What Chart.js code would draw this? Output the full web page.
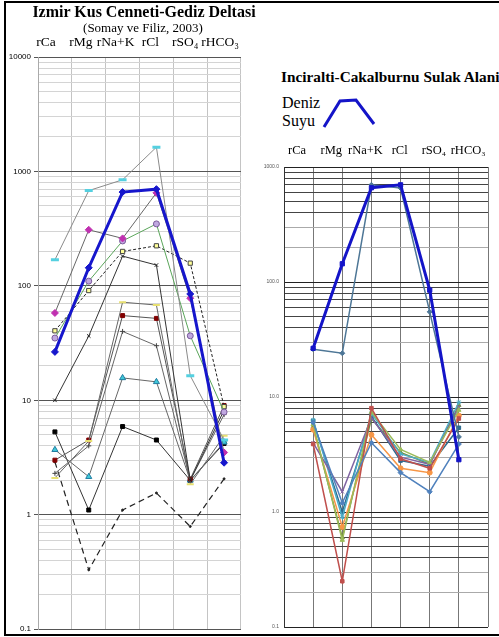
<!DOCTYPE html>
<html>
<head>
<meta charset="utf-8">
<script src="https://cdn.jsdelivr.net/npm/chart.js@4.4.1/dist/chart.umd.min.js"></script>
<style>
body { margin:0; background:#fff; width:499px; height:637px; overflow:hidden; position:relative; font-family:'Liberation Serif', serif; color:#000; }
#frame { position:absolute; left:4px; top:1px; width:600px; height:631px; border:2px solid #000; border-right:none; pointer-events:none; }
#leftChart { position:absolute; left:0; top:0; }
#rightChart { position:absolute; left:262px; top:140px; }
.title1 { position:absolute; left:0; width:288px; top:3px; text-align:center; font-weight:bold; font-size:16px; }
.title2 { position:absolute; left:0; width:286px; top:20px; text-align:center; font-size:13px; }
.title3 { position:absolute; left:281px; top:69px; font-weight:bold; font-size:15px; white-space:nowrap; transform:scaleX(1.02); transform-origin:left center; }
.deniz { position:absolute; left:282px; top:94px; font-size:16px; line-height:18px; }
#legendLine { position:absolute; left:318px; top:92px; }
</style>
</head>
<body>
<canvas id="leftChart" width="250" height="637"></canvas>
<canvas id="rightChart" width="237" height="497"></canvas>
<div class="title1">Izmir Kus Cenneti-Gediz Deltasi</div>
<div class="title2">(Somay ve Filiz, 2003)</div>
<div class="title3">Inciralti-Cakalburnu Sulak Alani</div>
<div class="deniz">Deniz<br>Suyu</div>
<svg id="legendLine" width="64" height="40"><polyline points="6,35 22,9 38,8 56,32" fill="none" stroke="#1414c8" stroke-width="3"/></svg>
<div id="frame"></div>
<script>
var ions = ['rCa', 'rMg', 'rNa+K', 'rCl', 'rSO\u2084', 'rHCO\u2083'];
var leftTickLabels = ['0.1', '1', '10', '100', '1000', '10000'];
var rightTickLabels = ['0.1', '1.0', '10.0', '100.0', '1000.0'];

// deniz suyu (sea water), same in both panels
var seawater = [26.5, 144, 660, 700, 85, 2.85];

// Gediz deltasi samples
var gedizCyan = [169, 680, 845, 1630, 16.4, 4.5];
var gedizMagenta = [58, 309, 260, 650, 78, 3.5];
var gedizPurple = [35, 110, 247, 348, 36.6, 7.9];
var gedizYellow = [40.5, 91, 200, 224, 158, 8.8];
var gedizCross = [10, 36.5, 182, 152, 2.0, 8.2];
var gedizOlive = [2.1, 4.4, 72, 68, 1.85, 4.9];
var gedizRed = [3.0, 4.5, 55, 52, 2.05, 9.0];
var gedizPlus = [2.3, 4.0, 40, 30, 2.0, 7.5];
var gedizTeal = [3.7, 2.15, 15.7, 14.5, 2.0, 4.3];
var gedizBlack = [5.3, 1.1, 5.9, 4.5, 2.0, 4.2];
var gedizDashed = [2.9, 0.33, 1.1, 1.55, 0.79, 2.06];

// Inciralti samples
var incSteel = [26, 24, 700, 656, 55, 4.5];
var incBlue = [6.0, 1.2, 4.0, 2.2, 1.5, 3.9];
var incRed = [3.9, 0.25, 8.0, 2.9, 2.4, 6.5];
var incGreen = [5.8, 0.57, 7.4, 3.5, 2.7, 7.7];
var incPurple = [4.0, 1.5, 6.6, 3.0, 2.6, 8.2];
var incAqua = [6.3, 0.9, 7.2, 3.2, 2.7, 9.0];
var incOrange = [5.2, 0.74, 4.7, 2.4, 2.2, 6.9];
var incNavy = [6.2, 1.0, 6.8, 2.8, 2.5, 5.4];
var incOlive = [5.5, 0.6, 6.5, 3.3, 2.6, 8.5];

function isPow(v){
	var l = Math.log10(v);
	return Math.abs(l - Math.round(l)) < 1e-9;
}

function logTicks(minExp, maxExp){
	var t = [];
	for (var e = minExp; e < maxExp; e++) {
		for (var m = 1; m < 10; m++) t.push({value: m * Math.pow(10, e)});
	}
	t.push({value: Math.pow(10, maxExp)});
	return t;
}

function ionTicks(s){
	s.ticks = [1, 2, 3, 4, 5, 6].map(function(v){ return {value: v}; });
}

function line(label, data, color, opts){
	var d = {
		label: label,
		data: data,
		borderColor: color,
		borderWidth: 1,
		tension: 0,
		fill: false,
		pointRadius: 2.5,
		pointStyle: 'rect',
		pointBackgroundColor: color,
		pointBorderColor: color,
		pointBorderWidth: 1
	};
	for (var k in opts) d[k] = opts[k];
	return d;
}

function xy(arr){
	return arr.map(function(v, i){ return {x: i + 1, y: v}; });
}

var serif = "'Liberation Serif', serif";
var sans = "'Liberation Sans', Arial, sans-serif";

new Chart(document.getElementById('leftChart'), {
	type: 'line',
	data: {
		labels: ions,
		datasets: [
			line('Deniz Suyu', seawater, '#1616cc', {borderWidth: 3, pointStyle: 'rectRot', pointRadius: 3.5}),
			line('S1', gedizCyan, '#8a8a8a', {pointStyle: 'line', pointRadius: 4, pointBorderWidth: 3, pointBorderColor: '#55d0e0'}),
			line('S2', gedizMagenta, '#666', {pointStyle: 'rectRot', pointRadius: 3.5, pointBackgroundColor: '#c030b0', pointBorderColor: '#c030b0'}),
			line('S3', gedizPurple, '#5aa55a', {pointStyle: 'circle', pointRadius: 3, pointBackgroundColor: '#c0a8e0', pointBorderColor: '#7a5a9a'}),
			line('S4', gedizYellow, '#222', {borderDash: [3, 2], pointStyle: 'rect', pointRadius: 3, pointBackgroundColor: '#ffff99', pointBorderColor: '#444'}),
			line('S5', gedizCross, '#333', {pointStyle: 'crossRot', pointRadius: 2.5, pointBorderColor: '#222'}),
			line('S6', gedizOlive, '#666', {pointStyle: 'line', pointRadius: 3.5, pointBorderWidth: 2, pointBorderColor: '#e8e070'}),
			line('S7', gedizRed, '#555', {pointStyle: 'rect', pointRadius: 2.8, pointBackgroundColor: '#800000', pointBorderColor: '#800000'}),
			line('S8', gedizPlus, '#666', {pointStyle: 'cross', pointRadius: 2.5, pointBorderColor: '#444'}),
			line('S9', gedizTeal, '#666', {pointStyle: 'triangle', pointRadius: 3.5, pointBackgroundColor: '#40c8d8', pointBorderColor: '#207ca0'}),
			line('S10', gedizBlack, '#333', {pointStyle: 'rect', pointRadius: 2.8, pointBackgroundColor: '#000', pointBorderColor: '#000'}),
			line('S11', gedizDashed, '#222', {borderWidth: 1.2, borderDash: [6, 4], pointRadius: 1, pointStyle: 'circle'})
		]
	},
	options: {
		responsive: false,
		animation: false,
		layout: {padding: {top: 0, right: 9, bottom: 7, left: 0}},
		plugins: {legend: {display: false}, tooltip: {enabled: false}},
		scales: {
			x: {
				type: 'category',
				position: 'top',
				offset: true,
				grid: {offset: true, color: '#c4c4c4', drawTicks: false},
				border: {display: false},
				ticks: {display: false},
				afterFit: function(s){ s.height = 0; }
			},
			xl: {
				type: 'linear',
				position: 'top',
				min: 0.77,
				max: 6.6,
				afterBuildTicks: ionTicks,
				grid: {display: false, drawTicks: false},
				border: {display: false},
				ticks: {
					color: '#000', padding: 6, maxRotation: 0, autoSkip: false,
					font: {family: serif, size: 13.5},
					callback: function(v){ return ions[Math.round(v) - 1]; }
				},
				afterFit: function(s){ s.height = 57; }
			},
			y: {
				type: 'logarithmic',
				min: 0.1,
				max: 10000,
				afterBuildTicks: function(s){ s.ticks = logTicks(-1, 4); },
				afterFit: function(s){ s.width = 38; },
				grid: {
					color: function(c){ return c.tick && isPow(c.tick.value) ? '#555' : '#d4d4d4'; },
					tickColor: function(c){ return c.tick && isPow(c.tick.value) ? '#555' : 'rgba(0,0,0,0)'; },
					tickLength: 4
				},
				border: {color: '#aaa'},
				ticks: {
					autoSkip: false,
					color: '#000',
					padding: 3,
					font: {family: sans, size: 8},
					callback: function(v){ return isPow(v) ? leftTickLabels[Math.round(Math.log10(v)) + 1] : ''; }
				}
			}
		}
	}
});

var rightDatasets = [
	line('Deniz Suyu', xy(seawater), '#1414c8', {borderWidth: 3, pointStyle: 'rect', pointRadius: 3}),
	line('I1', xy(incSteel), '#4d7696', {borderWidth: 1.5, pointStyle: 'rectRot', pointRadius: 2.5}),
	line('I2', xy(incBlue), '#4f81bd', {borderWidth: 1.5, pointStyle: 'rectRot'}),
	line('I3', xy(incRed), '#c0504d', {borderWidth: 1.5, pointStyle: 'rect'}),
	line('I4', xy(incGreen), '#9bbb59', {borderWidth: 1.5, pointStyle: 'triangle'}),
	line('I5', xy(incPurple), '#8064a2', {borderWidth: 1.5, pointStyle: 'crossRot'}),
	line('I6', xy(incAqua), '#4bacc6', {borderWidth: 1.5, pointStyle: 'star'}),
	line('I7', xy(incOrange), '#f79646', {borderWidth: 1.5, pointStyle: 'circle'}),
	line('I8', xy(incNavy), '#2c6a8e', {borderWidth: 1.5, pointStyle: 'rect'}),
	line('I9', xy(incOlive), '#77933c', {borderWidth: 1.5, pointStyle: 'triangle'})
];

new Chart(document.getElementById('rightChart'), {
	type: 'line',
	data: {datasets: rightDatasets},
	options: {
		responsive: false,
		animation: false,
		layout: {padding: {top: 0, right: 11, bottom: 10, left: 0}},
		plugins: {legend: {display: false}, tooltip: {enabled: false}},
		scales: {
			x: {
				type: 'linear',
				position: 'bottom',
				min: 0,
				max: 7,
				afterBuildTicks: function(s){ s.ticks = [0, 1, 2, 3, 4, 5, 6, 7].map(function(v){ return {value: v}; }); },
				grid: {color: '#777', drawTicks: false},
				border: {display: false},
				ticks: {display: false},
				afterFit: function(s){ s.height = 0; }
			},
			xl: {
				type: 'linear',
				position: 'top',
				min: 0.62,
				max: 6.58,
				afterBuildTicks: ionTicks,
				grid: {display: false, drawTicks: false},
				border: {display: false},
				ticks: {
					color: '#000', padding: 9, maxRotation: 0, autoSkip: false,
					font: {family: serif, size: 12.5},
					callback: function(v){ return ions[Math.round(v) - 1]; }
				},
				afterFit: function(s){ s.height = 27; }
			},
			y: {
				type: 'logarithmic',
				min: 0.1,
				max: 1000,
				afterBuildTicks: function(s){ s.ticks = logTicks(-1, 3); },
				afterFit: function(s){ s.width = 22; },
				grid: {
					color: function(c){
						if (!c.tick) return '#444';
						if (isPow(c.tick.value)) return '#222';
						var m = Math.round(c.tick.value / Math.pow(10, Math.floor(Math.log10(c.tick.value) + 1e-9)));
						return (m === 2 || m === 3) ? '#aaa' : '#444';
					},
					drawTicks: false
				},
				border: {color: '#333'},
				ticks: {
					autoSkip: false,
					color: '#555',
					padding: 5,
					font: {family: sans, size: 5},
					callback: function(v){ return isPow(v) ? rightTickLabels[Math.round(Math.log10(v)) + 1] : ''; }
				}
			}
		}
	}
});
</script>
</body>
</html>
